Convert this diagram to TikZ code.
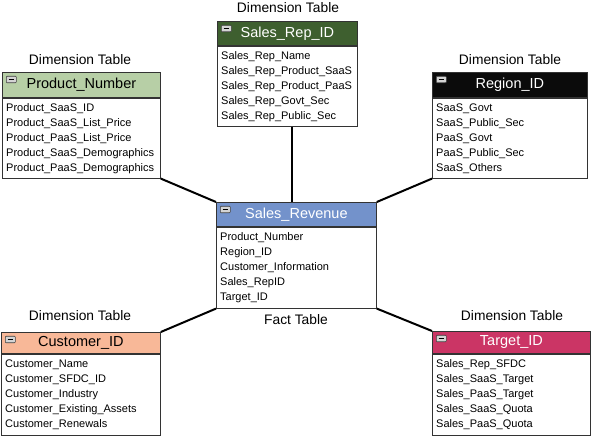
\documentclass[tikz,border=0pt]{standalone}
\usepackage{fontspec}
\setmainfont{Liberation Sans}
\definecolor{hdrProduct}{HTML}{B7CFA6}
\definecolor{hdrRep}{HTML}{3E5F2F}
\definecolor{hdrRegion}{HTML}{0B0B0B}
\definecolor{hdrFact}{HTML}{7392CB}
\definecolor{hdrCust}{HTML}{F8B898}
\definecolor{hdrTarget}{HTML}{CB3565}
\definecolor{iconfill}{HTML}{D4D4D4}
% #1 name, #2 left, #3 top, #4 width, #5 header height, #6 body height,
% #7 header fill, #8 title colour, #9 title, then body text
\newcommand{\dbtable}[9]{%
  \node[hdrbox, fill=#7, minimum width=#4pt, minimum height=#5pt] (#1H) at (#2,#3) {};
  \node[bodybox, minimum width=#4pt, minimum height=#6pt] (#1B) at (#1H.south west) {};
  \node[titletext, text=#8] (#1T) at (#1H.center) {#9};
  \node[iconbox] (#1I) at ([xshift=4pt,yshift=-4pt]#1H.north west) {};
  \draw[line width=0.8pt] ([xshift=2.5pt]#1I.west) -- ([xshift=-2.5pt]#1I.east);
  \dbbody{#1}}
\newcommand{\dbbody}[2]{%
  \node[rowtext] (#1L) at ([xshift=4pt,yshift=-6pt]#1B.north west) {#2};}
\begin{document}
\begin{tikzpicture}[x=1pt,y=-1pt,
  hdrbox/.style={draw=black!80, line width=0.8pt, anchor=north west, inner sep=0pt},
  bodybox/.style={draw=black!80, line width=0.8pt, fill=white, anchor=north west, inner sep=0pt},
  titletext/.style={font=\fontsize{14.5}{17}\selectfont, inner sep=0pt},
  rowtext/.style={font=\fontsize{11}{15}\selectfont, align=left, anchor=north west, inner sep=0pt},
  iconbox/.style={draw=black!75, fill=iconfill, line width=0.6pt, rounded corners=0.8pt,
    minimum width=10pt, minimum height=6.5pt, inner sep=0pt, anchor=north west},
  lbl/.style={font=\fontsize{13.8}{16}\selectfont, inner sep=0pt},
  conn/.style={line width=2pt, black}]
\useasboundingbox (0,0) rectangle (592,446);
\fill[white] (0,0) rectangle (592,446);

\dbtable{pn}{2}{72}{158}{25}{80}{hdrProduct}{black}{Product\_Number}{Product\_SaaS\_ID\\Product\_SaaS\_List\_Price\\Product\_PaaS\_List\_Price\\Product\_SaaS\_Demographics\\Product\_PaaS\_Demographics}
\dbtable{sr}{217}{21}{140}{24}{80}{hdrRep}{white}{Sales\_Rep\_ID}{Sales\_Rep\_Name\\Sales\_Rep\_Product\_SaaS\\Sales\_Rep\_Product\_PaaS\\Sales\_Rep\_Govt\_Sec\\Sales\_Rep\_Public\_Sec}
\dbtable{rg}{432}{72}{155}{25}{80}{hdrRegion}{white}{Region\_ID}{SaaS\_Govt\\SaaS\_Public\_Sec\\PaaS\_Govt\\PaaS\_Public\_Sec\\SaaS\_Others}
\dbtable{sv}{216}{202}{160}{24}{81}{hdrFact}{white}{Sales\_Revenue}{Product\_Number\\Region\_ID\\Customer\_Information\\Sales\_RepID\\Target\_ID}
\dbtable{cu}{1}{332}{159}{21}{81}{hdrCust}{black}{Customer\_ID}{Customer\_Name\\Customer\_SFDC\_ID\\Customer\_Industry\\Customer\_Existing\_Assets\\Customer\_Renewals}
\dbtable{tg}{432}{331}{158}{22}{81}{hdrTarget}{white}{Target\_ID}{Sales\_Rep\_SFDC\\Sales\_SaaS\_Target\\Sales\_PaaS\_Target\\Sales\_SaaS\_Quota\\Sales\_PaaS\_Quota}

\node[lbl] (pnLbl) at (80,60) {Dimension Table};
\node[lbl] (srLbl) at (288,8) {Dimension Table};
\node[lbl] (rgLbl) at (510,60) {Dimension Table};
\node[lbl] (cuLbl) at (80,316) {Dimension Table};
\node[lbl] (tgLbl) at (512,316) {Dimension Table};
\node[lbl] (svLbl) at (296,320) {Fact Table};

\draw[conn] (pnB.south east) -- (svH.north west);
\draw[conn] ([xshift=5pt]srB.south) -- ([xshift=5pt]srB.south |- svH.north);
\draw[conn] (rgB.south west) -- (svH.north east);
\draw[conn] (svB.south west) -- (cuH.north east);
\draw[conn] (svB.south east) -- (tgH.north west);
\end{tikzpicture}
\end{document}
